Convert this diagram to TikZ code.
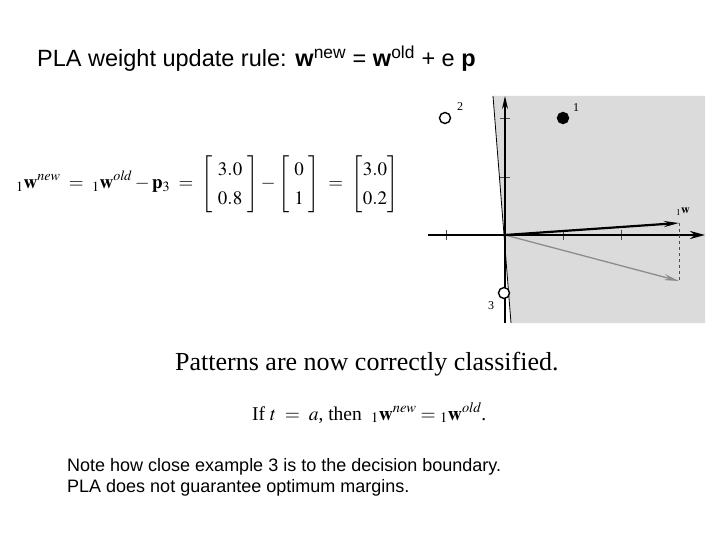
\documentclass[tikz,border=0pt]{standalone}
\usepackage{amsmath}
\usepackage{mathptmx}
\usepackage[no-math]{fontspec}
\setmainfont{Liberation Serif}
\setsansfont{Liberation Sans}
\usepackage{tikz}
\usetikzlibrary{positioning,arrows.meta,calc}
\tikzset{
  slidetext/.style={font=\fontsize{23.5}{26}\selectfont\sffamily, anchor=base west, inner sep=0pt},
  notetext/.style={font=\fontsize{18}{21}\selectfont\sffamily, anchor=base west, inner sep=0pt, align=left},
  eqtext/.style={font=\fontsize{19}{23}\selectfont, anchor=west, inner sep=0pt},
  plotpt/.style={circle, draw, line width=1.4pt, minimum size=11pt, inner sep=0pt, fill=white},
  plotlbl/.style={font=\fontsize{12}{14}\selectfont, inner sep=0pt},
  plotaxis/.style={-{Stealth[length=15pt,width=8pt]}, line width=2.6pt},
  plottick/.style={line width=0.6pt, black!70},
}
\begin{document}
\begin{tikzpicture}[x=1pt,y=-1pt]
  \useasboundingbox[fill=white] (0,0) rectangle (720,540);
  % title
  \node[slidetext] (title) at (37,67) {PLA weight update rule: \textbf{w}\textsuperscript{new} = \textbf{w}\textsuperscript{old} + e \textbf{p}};
  % update equation
  \node[eqtext] (eq) at (16,184) {\renewcommand{\arraystretch}{1.3}$\displaystyle {}_{1}\mathbf{w}^{\mathit{new}} \;=\; {}_{1}\mathbf{w}^{\mathit{old}} - \mathbf{p}_{3} \;=\; \left[\begin{array}{r}3.0\\0.8\end{array}\right] - \left[\begin{array}{r}0\\1\end{array}\right] \;=\; \left[\begin{array}{@{}r@{}}3.0\\0.2\end{array}\right]$};
  % plot
  \coordinate (o) at (505,235);
  \coordinate (w) at (679,223);
  \coordinate (wold) at (679,281);
  \fill[black!14] (493,96) -- (705,96) -- (705,323) -- (511,323) -- cycle;
  \foreach \tx in {446,563,621}
    \draw[plottick] (\tx,230) -- (\tx,240);
  \foreach \ty in {118,177}
    \draw[plottick] (500,\ty) -- (510,\ty);
  \draw[line width=0.8pt] (493,96) -- (511,323);
  \draw[plotaxis] (428,235) -- (705,235);
  \draw[-{Stealth[length=13pt,width=6pt]}, line width=1.2pt] (505,323) -- (505,96);
  \draw[dashed, line width=0.6pt, black!70] (w) -- (wold);
  \draw[-{Stealth[length=15pt,width=6pt]}, line width=1.3pt, black!45] (o) -- (wold);
  \draw[-{Stealth[length=15pt,width=6pt]}, line width=2.2pt] (o) -- (w);
  \node[font=\fontsize{12}{13}\selectfont, inner sep=0pt, anchor=south] (wlbl) at (683,216) {${}_{1}\mathbf{w}$};
  \node[plotpt, fill=black] (p1) at (563,118) {};
  \node[plotpt] (p2) at (445,118) {};
  \node[plotpt] (p3) at (504,293) {};
  \node[plotlbl] (l1) at (576,108) {1};
  \node[plotlbl] (l2) at (460,107) {2};
  \node[plotlbl] (l3) at (491,306) {3};
  % result
  \node[font=\fontsize{26}{30}\selectfont, anchor=base west, inner sep=0pt] (classified) at (175,370) {Patterns are now correctly classified.};
  \node[font=\fontsize{19.5}{23}\selectfont, anchor=base west, inner sep=0pt] (ifline) at (252,420) {If $t\;=\;a$, then $\;{}_{1}\mathbf{w}^{\mathit{new}} = {}_{1}\mathbf{w}^{\mathit{old}}$.};
  % note
  \node[notetext] (note) at (67,492) {Note how close example 3 is to the decision boundary.\\PLA does not guarantee optimum margins.};
\end{tikzpicture}
\end{document}
